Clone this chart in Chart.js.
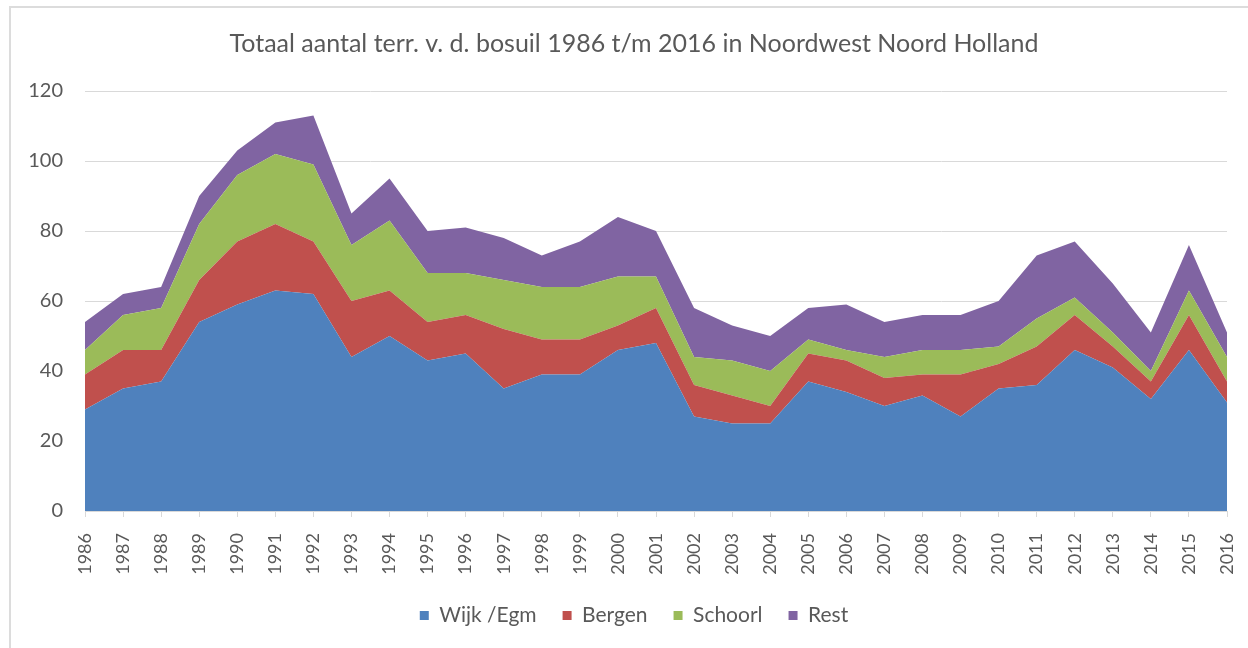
<!DOCTYPE html>
<html>
<head>
<meta charset="utf-8">
<script src="https://cdn.jsdelivr.net/npm/chart.js@4.4.1/dist/chart.umd.min.js"></script>
<style>
  html, body { margin: 0; padding: 0; background: #fff; overflow: hidden; }
  #kader { position: absolute; left: 9px; top: 6px; width: 1400px; height: 800px; border: 2px solid #dcdcdc; }
  #grafiek { position: absolute; left: 0; top: 0; }
</style>
</head>
<body>
<div id="kader"></div>
<canvas id="grafiek" width="1268" height="648"></canvas>
<script>
// jaren en aantallen territoria per gebied
const jaren = ['1986','1987','1988','1989','1990','1991','1992','1993','1994','1995','1996',
  '1997','1998','1999','2000','2001','2002','2003','2004','2005','2006','2007','2008',
  '2009','2010','2011','2012','2013','2014','2015','2016'];
const wijkEgm = [29, 35, 37, 54, 59, 63, 62, 44, 50, 43, 45, 35, 39, 39, 46, 48, 27, 25, 25, 37, 34, 30, 33, 27, 35, 36, 46, 41, 32, 46, 31];
const bergen  = [10, 11,  9, 12, 18, 19, 15, 16, 13, 11, 11, 17, 10, 10,  7, 10,  9,  8,  5,  8,  9,  8,  6, 12,  7, 11, 10,  6,  5, 10,  6];
const schoorl = [ 7, 10, 12, 16, 19, 20, 22, 16, 20, 14, 12, 14, 15, 15, 14,  9,  8, 10, 10,  4,  3,  6,  7,  7,  5,  8,  5,  4,  3,  7,  7];
const rest    = [ 8,  6,  6,  8,  7,  9, 14,  9, 12, 12, 13, 12,  9, 13, 17, 13, 14, 10, 10,  9, 13, 10, 10, 10, 13, 18, 16, 14, 11, 13,  7];
const yTicks = [0, 20, 40, 60, 80, 100, 120];

const grijs = '#595959';
const lijn = '#d9d9d9';

function reeks(label, data, kleur, vulling) {
    return {
        label: label,
        data: data,
        backgroundColor: kleur,
        borderColor: kleur,
        borderWidth: 0,
        pointRadius: 0,
        pointHoverRadius: 0,
        tension: 0,
        fill: vulling
    };
}

const ctx = document.getElementById('grafiek').getContext('2d');
new Chart(ctx, {
    type: 'line',
    data: {
        labels: jaren,
        datasets: [
            reeks('Wijk /Egm', wijkEgm, '#4f81bd', 'origin'),
            reeks('Bergen', bergen, '#c0504d', '-1'),
            reeks('Schoorl', schoorl, '#9bbb59', '-1'),
            reeks('Rest', rest, '#8064a2', '-1')
        ]
    },
    options: {
        responsive: false,
        animation: false,
        layout: { padding: { left: 41, right: 41, top: 0, bottom: 12 } },
        plugins: {
            tooltip: { enabled: false },
            title: {
                display: true,
                text: 'Totaal aantal terr. v. d. bosuil 1986 t/m 2016 in Noordwest Noord Holland',
                color: grijs,
                font: { family: 'Lato', size: 25, weight: 'normal' },
                padding: { top: 29, bottom: 32 }
            },
            legend: {
                position: 'bottom',
                labels: {
                    color: grijs,
                    font: { family: 'Lato', size: 21 },
                    boxWidth: 9,
                    boxHeight: 9,
                    padding: 26
                }
            }
        },
        scales: {
            x: {
                grid: { drawOnChartArea: false, drawTicks: true, tickLength: 6, color: lijn },
                border: { display: true, color: lijn },
                ticks: {
                    color: grijs,
                    font: { family: 'Lato', size: 18 },
                    minRotation: 90,
                    maxRotation: 90,
                    autoSkip: false,
                    padding: 16
                },
                afterFit: function(scale) { scale.height = 68; }
            },
            y: {
                stacked: true,
                min: 0,
                max: 120,
                afterBuildTicks: function(scale) { scale.ticks = yTicks.map(v => ({ value: v })); },
                grid: { color: lijn, drawTicks: false },
                border: { display: false },
                ticks: {
                    color: grijs,
                    font: { family: 'Lato', size: 20 },
                    padding: 22
                },
                afterFit: function(scale) {
                    scale.width = 44;
                    // labels mogen links buiten de smalle as vallen
                    scale._computeLabelArea = function() { return undefined; };
                }
            }
        }
    }
});
</script>
</body>
</html>
